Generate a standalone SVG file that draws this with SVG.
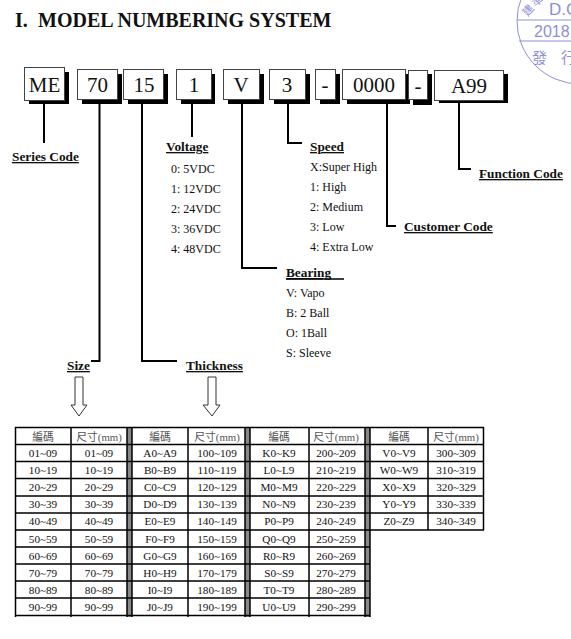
<svg xmlns="http://www.w3.org/2000/svg" width="571" height="639" viewBox="0 0 571 639">
<style>
text{font-family:"Liberation Serif","Noto Sans CJK TC",serif;fill:#111}
.t{font-size:12px}
.h{font-size:13.300px;font-weight:bold;text-decoration:underline}
.b{font-size:21px;text-anchor:middle}
.c{font-size:11.200px;text-anchor:middle}
.k{fill:#555;font-size:10.800px;text-anchor:middle}
.box{fill:#fff;stroke:#444;stroke-width:1}
.sh{fill:#000}
.ln{fill:none;stroke:#000;stroke-width:2}
.g{fill:none;stroke:#000;stroke-width:1.500}
.s{fill:none;stroke:#8f8fd6;stroke-width:1}
.st{fill:#8f8fd6;font-family:"Liberation Sans",sans-serif}
.sc{fill:#8f8fd6;font-family:"Noto Sans CJK TC",sans-serif}
</style>
<g id="title"><text x="15" y="27" font-size="20" font-weight="bold">I.<tspan x="38">MODEL NUMBERING SYSTEM</tspan></text></g>
<g id="stamp">
<circle class="s" cx="580" cy="21" r="63"/>
<path class="s" d="M517 20H571M519 41H571"/>
<text class="st" x="549" y="15" font-size="17">D.C</text>
<text class="st" x="534" y="37" font-size="16">2018.</text>
<text class="sc" x="532" y="63" font-size="15">發</text>
<text class="sc" x="561" y="63" font-size="15">行</text>
<text class="sc" x="522" y="15" font-size="11" transform="rotate(-50 527 10)">建</text>
<text class="sc" x="532" y="5" font-size="11" transform="rotate(-35 537 1)">準</text>
</g>
<g id="connectors">
<path class="ln" d="M44 104V143"/>
<path class="ln" d="M99.500 102V361H91"/>
<path class="ln" d="M142 102V361H177"/>
<path class="ln" d="M192 102V137"/>
<path class="ln" d="M242 102V268H277"/>
<path class="ln" d="M288 102V143H302"/>
<path class="ln" d="M387 102V226H396"/>
<path class="ln" d="M459 102V169H471"/>
</g>
<g id="n-me"><rect class="sh" x="29" y="72" width="40" height="32"/><rect class="box" x="24.500" y="67.500" width="40" height="33"/><text class="b" x="44.500" y="92">ME</text></g>
<g id="n-70"><rect class="sh" x="82" y="74" width="40" height="30"/><rect class="box" x="77.500" y="69.500" width="40" height="30"/><text class="b" x="97.500" y="92">70</text></g>
<g id="n-15"><rect class="sh" x="128" y="74" width="40" height="30"/><rect class="box" x="123.500" y="69.500" width="40" height="30"/><text class="b" x="144" y="92">15</text></g>
<g id="n-1"><rect class="sh" x="181" y="74" width="34" height="30"/><rect class="box" x="176.500" y="69.500" width="35" height="30"/><text class="b" x="194" y="92">1</text></g>
<g id="n-v"><rect class="sh" x="228" y="74" width="36" height="30"/><rect class="box" x="223.500" y="69.500" width="36" height="30"/><text class="b" x="241" y="92">V</text></g>
<g id="n-3"><rect class="sh" x="274" y="74" width="36" height="30"/><rect class="box" x="269.500" y="69.500" width="36" height="30"/><text class="b" x="287" y="92">3</text></g>
<g id="n-d1"><rect class="sh" x="320" y="74" width="20" height="30"/><rect class="box" x="315.500" y="69.500" width="20" height="30"/><text class="b" x="325" y="92">-</text></g>
<g id="n-0000"><rect class="sh" x="347" y="74" width="63" height="30"/><rect class="box" x="342.500" y="69.500" width="63" height="30"/><text class="b" x="374" y="92">0000</text></g>
<g id="n-d2"><rect class="sh" x="413" y="74" width="19" height="31"/><rect class="box" x="408.500" y="70.500" width="19" height="29"/><text class="b" x="418" y="93">-</text></g>
<g id="n-a99"><rect class="sh" x="439" y="74" width="69" height="29"/><rect class="box" x="434.500" y="70.500" width="69" height="30"/><text class="b" x="469" y="93">A99</text></g>
<g id="series"><text class="h" x="12" y="161">Series Code</text></g>
<g id="voltage"><text class="h" x="166" y="151">Voltage</text>
<text class="t" x="171" y="173">0: 5VDC</text><text class="t" x="171" y="193">1: 12VDC</text><text class="t" x="171" y="213">2: 24VDC</text><text class="t" x="171" y="233">3: 36VDC</text><text class="t" x="171" y="253">4: 48VDC</text></g>
<g id="speed"><text class="h" x="310" y="151">Speed</text>
<text class="t" x="310" y="171">X:Super High</text><text class="t" x="310" y="191">1: High</text><text class="t" x="310" y="211">2: Medium</text><text class="t" x="310" y="231">3: Low</text><text class="t" x="310" y="251">4: Extra Low</text></g>
<g id="function"><text class="h" x="479" y="178">Function Code</text></g>
<g id="customer"><text class="h" x="404" y="231">Customer Code</text></g>
<g id="bearing"><text class="h" x="286" y="277">Bearing</text><path d="M286 279H344" stroke="#000" stroke-width="1.500"/>
<text class="t" x="286" y="297">V: Vapo</text><text class="t" x="286" y="317">B: 2 Ball</text><text class="t" x="286" y="337">O: 1Ball</text><text class="t" x="286" y="357">S: Sleeve</text></g>
<g id="size"><text class="h" x="67" y="370">Size</text><path d="M75 377H83V405H87L79 416L71 405H75Z" fill="#fff" stroke="#333"/></g>
<g id="thickness"><text class="h" x="186" y="370">Thickness</text><path d="M208 377H216V405H220L212 416L203 405H208Z" fill="#fff" stroke="#333"/></g>
<g id="table">
<path fill="#888" d="M127 427h5v190h-5zM245 427h5v190h-5zM365 427h5v190h-5z"/>
<path class="g" d="M15 427.500H484M15 444.500H484M15 461.500H484M15 478.500H484M15 496H484M15 513H484M15 530H484"/>
<path class="g" d="M15 547H370M15 564H370M15 581H370M15 598H370M15 615.500H370"/>
<path class="g" d="M15.500 427V617M71 427V617M127 427V617M132 427V617M188 427V617M245 427V617M250 427V617M309 427V617M365 427V617M370 427V617M428 427V530M483.500 427V530"/>
<g id="table-text">
<text x="43" y="441" class="k">編碼</text><text x="99" y="441" class="k">尺寸(mm)</text><text x="160" y="441" class="k">編碼</text><text x="217" y="441" class="k">尺寸(mm)</text><text x="279" y="441" class="k">編碼</text><text x="336" y="441" class="k">尺寸(mm)</text><text x="399" y="441" class="k">編碼</text><text x="456" y="441" class="k">尺寸(mm)</text>
<text x="43" y="457" class="c">01~09</text><text x="99" y="457" class="c">01~09</text><text x="160" y="457" class="c">A0~A9</text><text x="217" y="457" class="c">100~109</text><text x="279" y="457" class="c">K0~K9</text><text x="336" y="457" class="c">200~209</text><text x="399" y="457" class="c">V0~V9</text><text x="456" y="457" class="c">300~309</text>
<text x="43" y="474" class="c">10~19</text><text x="99" y="474" class="c">10~19</text><text x="160" y="474" class="c">B0~B9</text><text x="217" y="474" class="c">110~119</text><text x="279" y="474" class="c">L0~L9</text><text x="336" y="474" class="c">210~219</text><text x="399" y="474" class="c">W0~W9</text><text x="456" y="474" class="c">310~319</text>
<text x="43" y="491" class="c">20~29</text><text x="99" y="491" class="c">20~29</text><text x="160" y="491" class="c">C0~C9</text><text x="217" y="491" class="c">120~129</text><text x="279" y="491" class="c">M0~M9</text><text x="336" y="491" class="c">220~229</text><text x="399" y="491" class="c">X0~X9</text><text x="456" y="491" class="c">320~329</text>
<text x="43" y="508" class="c">30~39</text><text x="99" y="508" class="c">30~39</text><text x="160" y="508" class="c">D0~D9</text><text x="217" y="508" class="c">130~139</text><text x="279" y="508" class="c">N0~N9</text><text x="336" y="508" class="c">230~239</text><text x="399" y="508" class="c">Y0~Y9</text><text x="456" y="508" class="c">330~339</text>
<text x="43" y="525" class="c">40~49</text><text x="99" y="525" class="c">40~49</text><text x="160" y="525" class="c">E0~E9</text><text x="217" y="525" class="c">140~149</text><text x="279" y="525" class="c">P0~P9</text><text x="336" y="525" class="c">240~249</text><text x="399" y="525" class="c">Z0~Z9</text><text x="456" y="525" class="c">340~349</text>
<text x="43" y="543" class="c">50~59</text><text x="99" y="543" class="c">50~59</text><text x="160" y="543" class="c">F0~F9</text><text x="217" y="543" class="c">150~159</text><text x="279" y="543" class="c">Q0~Q9</text><text x="336" y="543" class="c">250~259</text>
<text x="43" y="560" class="c">60~69</text><text x="99" y="560" class="c">60~69</text><text x="160" y="560" class="c">G0~G9</text><text x="217" y="560" class="c">160~169</text><text x="279" y="560" class="c">R0~R9</text><text x="336" y="560" class="c">260~269</text>
<text x="43" y="577" class="c">70~79</text><text x="99" y="577" class="c">70~79</text><text x="160" y="577" class="c">H0~H9</text><text x="217" y="577" class="c">170~179</text><text x="279" y="577" class="c">S0~S9</text><text x="336" y="577" class="c">270~279</text>
<text x="43" y="594" class="c">80~89</text><text x="99" y="594" class="c">80~89</text><text x="160" y="594" class="c">I0~I9</text><text x="217" y="594" class="c">180~189</text><text x="279" y="594" class="c">T0~T9</text><text x="336" y="594" class="c">280~289</text>
<text x="43" y="611" class="c">90~99</text><text x="99" y="611" class="c">90~99</text><text x="160" y="611" class="c">J0~J9</text><text x="217" y="611" class="c">190~199</text><text x="279" y="611" class="c">U0~U9</text><text x="336" y="611" class="c">290~299</text>
</g>
</g>
</svg>
